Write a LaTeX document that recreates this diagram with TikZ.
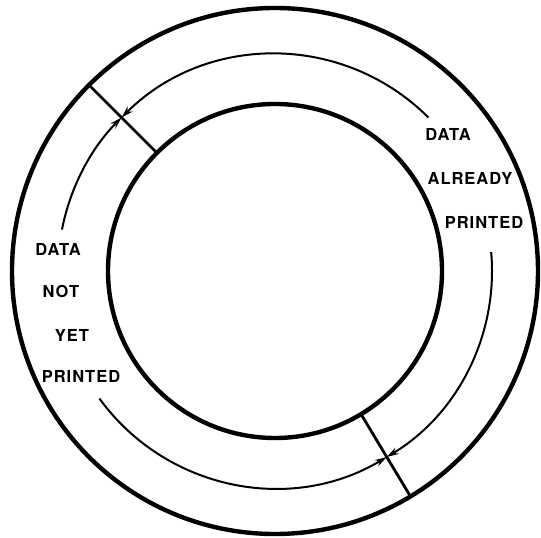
\documentclass[tikz,border=0pt]{standalone}
\usepackage{fontspec}
\setmainfont[LetterSpace=6]{TeX Gyre Heros}
\usetikzlibrary{arrows.meta}

\begin{document}
\begin{tikzpicture}[x=1pt, y=1pt, >={Stealth[length=12pt,width=7pt]},
  ring/.style={draw, circle, line width=4.4pt, outer sep=0pt, inner sep=0pt},
  flow/.style={->, line width=2pt},
  cut/.style={line width=2.8pt},
  lbl/.style={font=\fontsize{16.5}{18}\selectfont\bfseries, inner sep=0pt}]

\useasboundingbox (0,0) rectangle (541,538);
\coordinate (c) at (275,267);

% Rings
\node[ring, minimum size=526pt] (outer) at (c) {};
\node[ring, minimum size=334pt] (inner) at (c) {};

% Boundaries
\draw[cut] (inner.135) -- (outer.135);
\draw[cut] (inner.301) -- (outer.301);

% Flow arrows
\draw[flow] ([shift={(45:217)}]c) arc[start angle=45, end angle=135, radius=217];
\draw[flow] ([shift={(169:217)}]c) arc[start angle=169, end angle=135, radius=217];
\draw[flow] ([shift={(5:217)}]c) arc[start angle=5, end angle=-59, radius=217];
\draw[flow] ([shift={(216:217)}]c) arc[start angle=216, end angle=301, radius=217];

% Right labels
\node[lbl] (r0) at (448,404) {DATA};
\node[lbl] (r1) at (470,360) {ALREADY};
\node[lbl] (r2) at (484,316) {PRINTED};

% Left labels
\node[lbl] (l0) at (58,289) {DATA};
\node[lbl] (l1) at (61,247) {NOT};
\node[lbl] (l2) at (72,203) {YET};
\node[lbl] (l3) at (81,162) {PRINTED};

\end{tikzpicture}
\end{document}
